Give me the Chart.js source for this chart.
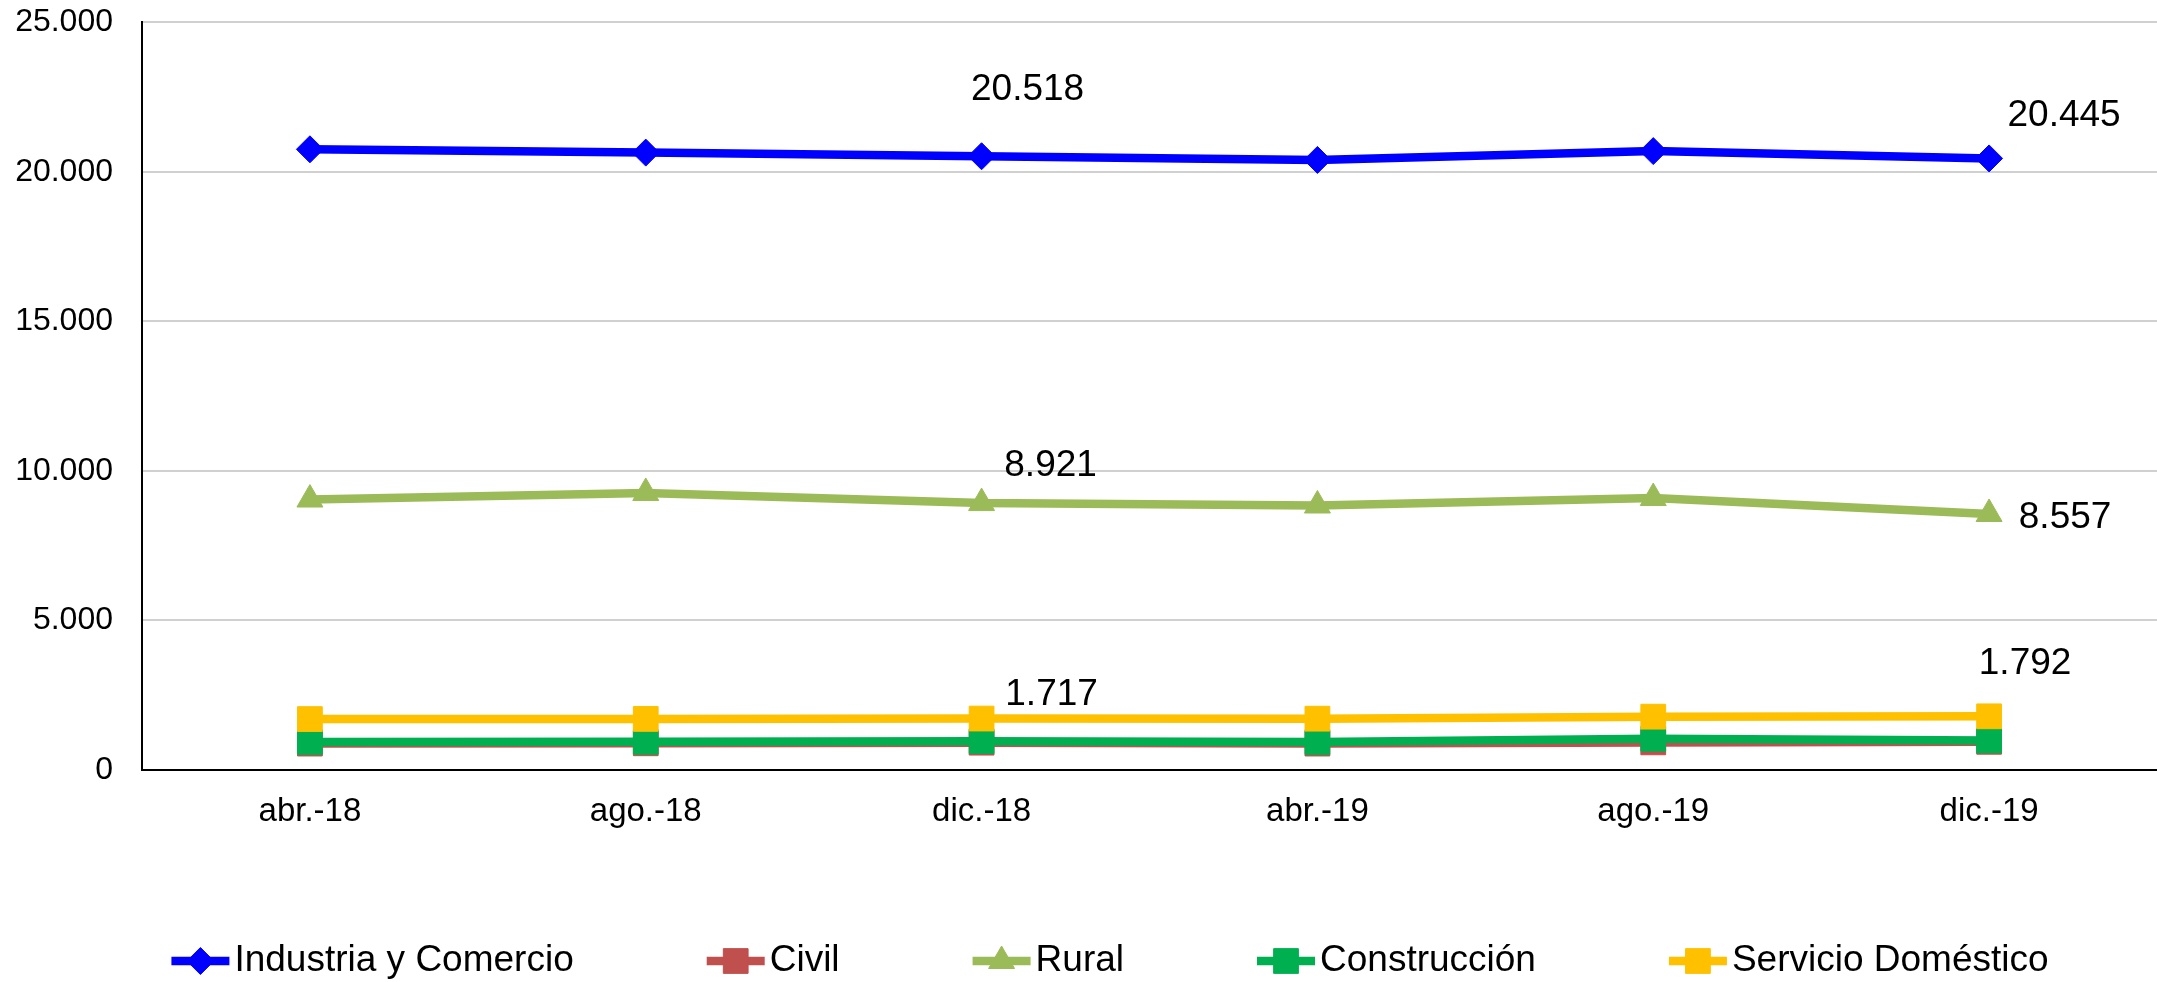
<!DOCTYPE html>
<html>
<head>
<meta charset="utf-8">
<script src="https://cdn.jsdelivr.net/npm/chart.js@4/dist/chart.umd.min.js"></script>
<style>
  html, body { margin: 0; padding: 0; background: #fff; }
  #wrap { width: 2157px; height: 982px; }
</style>
</head>
<body>
<div id="wrap"><canvas id="lineas"></canvas></div>
<script>
const categorias = ['abr.-18', 'ago.-18', 'dic.-18', 'abr.-19', 'ago.-19', 'dic.-19'];
const industriaComercio = [20750, 20640, 20518, 20395, 20690, 20445];
const civil = [880, 890, 910, 880, 920, 940];
const rural = [9040, 9260, 8921, 8840, 9090, 8557];
const construccion = [930, 940, 960, 930, 1040, 980];
const servicioDomestico = [1700, 1705, 1717, 1712, 1780, 1792];
const ticksY = [0, 5000, 10000, 15000, 20000, 25000];

// etiquetas de datos visibles (serie, punto) y su desplazamiento respecto al punto
const etiquetas = [
    { serie: 0, punto: 2, dx: 46, dy: -66 },
    { serie: 0, punto: 5, dx: 75, dy: -43 },
    { serie: 2, punto: 2, dx: 69, dy: -37 },
    { serie: 2, punto: 5, dx: 76, dy: 4 },
    { serie: 4, punto: 2, dx: 70, dy: -24 },
    { serie: 4, punto: 5, dx: 36, dy: -53 }
];

const FUENTE = '"Liberation Sans", Arial, sans-serif';
const LEY = { centroX: 1110, y: 961, seg: 58, gapText: 5, gapItem: 133, size: 37 };

function fmt(v) {
    return String(v).replace(/\B(?=(\d{3})+(?!\d))/g, '.');
}

function serie(label, data, color, estilo, radio, orden) {
    return {
        label: label,
        data: data,
        borderColor: color,
        backgroundColor: color,
        pointBackgroundColor: color,
        pointBorderColor: color,
        borderWidth: 8.5,
        pointStyle: estilo,
        pointRadius: radio,
        pointHoverRadius: radio,
        pointBorderWidth: 1,
        tension: 0,
        order: orden
    };
}

const etiquetasDatos = {
    id: 'etiquetasDatos',
    afterDatasetsDraw(chart) {
        const ctx = chart.ctx;
        ctx.save();
        ctx.font = '37px ' + FUENTE;
        ctx.fillStyle = '#000';
        ctx.textAlign = 'center';
        ctx.textBaseline = 'middle';
        etiquetas.forEach(e => {
            const pt = chart.getDatasetMeta(e.serie).data[e.punto];
            const v = chart.data.datasets[e.serie].data[e.punto];
            ctx.fillText(fmt(v), pt.x + e.dx, pt.y + e.dy);
        });
        ctx.restore();
    }
};

const leyenda = {
    id: 'leyenda',
    afterDraw(chart) {
        const ctx = chart.ctx;
        ctx.save();
        ctx.font = LEY.size + 'px ' + FUENTE;
        const items = chart.data.datasets.map(ds => ({ ds: ds, w: ctx.measureText(ds.label).width }));
        const total = items.reduce((s, it) => s + LEY.seg + LEY.gapText + it.w, 0) + LEY.gapItem * (items.length - 1);
        let x = LEY.centroX - total / 2;
        const y = LEY.y;
        items.forEach(it => {
            const ds = it.ds;
            ctx.strokeStyle = ds.borderColor;
            ctx.lineWidth = ds.borderWidth;
            ctx.beginPath();
            ctx.moveTo(x, y);
            ctx.lineTo(x + LEY.seg, y);
            ctx.stroke();
            ctx.fillStyle = ds.pointBackgroundColor;
            ctx.strokeStyle = ds.pointBorderColor;
            ctx.lineWidth = 1;
            Chart.helpers.drawPoint(ctx, { pointStyle: ds.pointStyle, radius: ds.pointRadius, rotation: 0, borderWidth: 1 }, x + LEY.seg / 2, y);
            ctx.fillStyle = '#000';
            ctx.textAlign = 'left';
            ctx.textBaseline = 'middle';
            ctx.fillText(ds.label, x + LEY.seg + LEY.gapText, y);
            x += LEY.seg + LEY.gapText + it.w + LEY.gapItem;
        });
        ctx.restore();
    }
};

Chart.defaults.font.family = FUENTE;
Chart.defaults.color = '#000';

new Chart(document.getElementById('lineas').getContext('2d'), {
    type: 'line',
    data: {
        labels: categorias,
        datasets: [
            serie('Industria y Comercio', industriaComercio, '#0000FF', 'rectRot', 13.5, 5),
            serie('Civil', civil, '#C0504D', 'rect', 17.5, 4),
            serie('Rural', rural, '#9BBB59', 'triangle', 15, 3),
            serie('Construcción', construccion, '#00B050', 'rect', 17.5, 2),
            serie('Servicio Doméstico', servicioDomestico, '#FFC000', 'rect', 17.5, 1)
        ]
    },
    options: {
        responsive: true,
        maintainAspectRatio: false,
        animation: false,
        devicePixelRatio: 1,
        layout: {
            autoPadding: false,
            padding: { top: 22, right: 0, bottom: 128.5, left: 0 }
        },
        plugins: {
            legend: { display: false },
            tooltip: { enabled: false }
        },
        scales: {
            x: {
                offset: true,
                grid: { display: false, drawTicks: false },
                border: { display: true, color: '#000', width: 2 },
                ticks: {
                    font: { size: 33 },
                    color: '#000',
                    padding: 22,
                    maxRotation: 0,
                    autoSkip: false
                }
            },
            y: {
                min: 0,
                max: 25000,
                afterBuildTicks: s => { s.ticks = ticksY.map(v => ({ value: v })); },
                afterFit: s => { s.width = 142; },
                grid: { color: '#D0D0D0', lineWidth: 2, drawTicks: true, tickLength: 26, tickColor: 'rgba(0,0,0,0)' },
                border: { display: true, color: '#000', width: 2 },
                ticks: {
                    font: { size: 32 },
                    color: '#000',
                    padding: 3,
                    callback: v => fmt(v)
                }
            }
        }
    },
    plugins: [etiquetasDatos, leyenda]
});
</script>
</body>
</html>
